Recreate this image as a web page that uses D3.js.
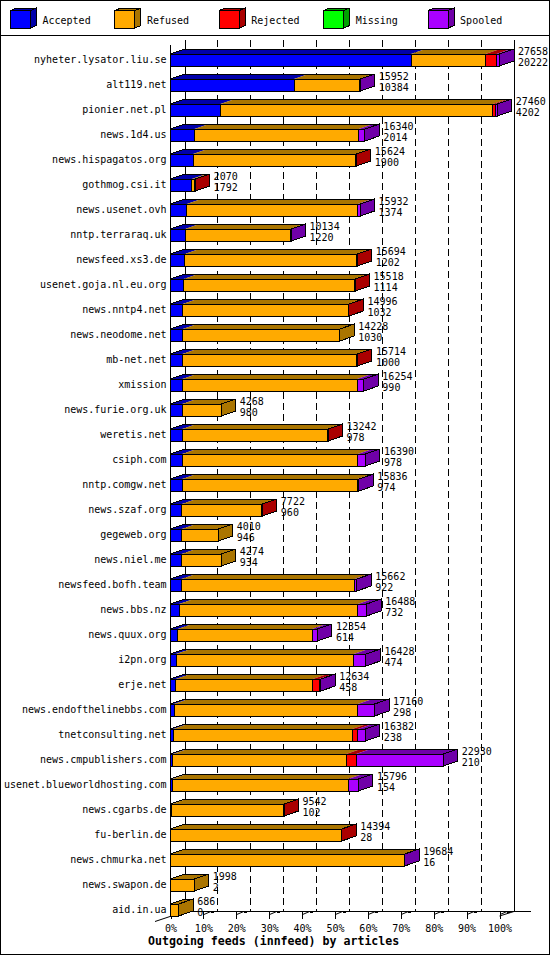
<!DOCTYPE html>
<html>
<head>
<meta charset="utf-8">
<script src="https://cdn.jsdelivr.net/npm/d3@7"></script>
<style>
  body { margin: 0; background: #fff; }
  svg { display: block; }
  text { font-family: "DejaVu Sans Mono", monospace; font-size: 10px; fill: #000; }
</style>
</head>
<body>
<svg width="550" height="955"></svg>
<script>
// innfeed outgoing feeds, counts per peer
const hosts = [
    "nyheter.lysator.liu.se", "alt119.net", "pionier.net.pl", "news.1d4.us",
    "news.hispagatos.org", "gothmog.csi.it", "news.usenet.ovh", "nntp.terraraq.uk",
    "newsfeed.xs3.de", "usenet.goja.nl.eu.org", "news.nntp4.net", "news.neodome.net",
    "mb-net.net", "xmission", "news.furie.org.uk", "weretis.net", "csiph.com",
    "nntp.comgw.net", "news.szaf.org", "gegeweb.org", "news.niel.me",
    "newsfeed.bofh.team", "news.bbs.nz", "news.quux.org", "i2pn.org", "erje.net",
    "news.endofthelinebbs.com", "tnetconsulting.net", "news.cmpublishers.com",
    "usenet.blueworldhosting.com", "news.cgarbs.de", "fu-berlin.de",
    "news.chmurka.net", "news.swapon.de", "aid.in.ua"
];
const totals = [
    27658, 15952, 27460, 16340, 15624, 2070, 15932, 10134, 15694, 15518, 14996, 14228,
    15714, 16254, 4268, 13242, 16390, 15836, 7722, 4010, 4274, 15662, 16488, 12354,
    16428, 12634, 17160, 16382, 22930, 15796, 9542, 14394, 19684, 1998, 686
];
const accepted = [
    20222, 10384, 4202, 2014, 1900, 1792, 1374, 1220, 1202, 1114, 1032, 1030,
    1000, 990, 980, 978, 978, 974, 960, 946, 934, 922, 732, 614,
    474, 458, 298, 238, 210, 154, 102, 28, 16, 2, 0
];
const refused = [
    6260, 5488, 22900, 13818, 13644, 200, 14378, 8854, 14412, 14344, 13904, 13198,
    14644, 14710, 3288, 12195, 14774, 14772, 6722, 3064, 3340, 14560, 15020, 11296,
    14939, 11509, 15454, 15037, 14560, 14784, 9410, 14326, 19648, 1996, 686
];
const rejected = [
    925, 0, 240, 0, 80, 78, 0, 0, 80, 60, 60, 0,
    70, 0, 0, 69, 0, 0, 40, 0, 0, 0, 0, 0,
    0, 540, 0, 480, 840, 0, 30, 40, 0, 0, 0
];
const missing = [
    0, 0, 0, 0, 0, 0, 0, 0, 0, 0, 0, 0,
    0, 0, 0, 0, 0, 0, 0, 0, 0, 0, 0, 0,
    0, 0, 0, 0, 0, 0, 0, 0, 0, 0, 0
];
const spooled = [
    251, 80, 118, 508, 0, 0, 180, 60, 0, 0, 0, 0,
    0, 554, 0, 0, 638, 90, 0, 0, 0, 180, 736, 444,
    1015, 127, 1408, 627, 7320, 858, 0, 0, 20, 0, 0
];
const seriesNames = ["Accepted", "Refused", "Rejected", "Missing", "Spooled"];
const frontColors = ["#0000ff", "#ffaa00", "#ff0000", "#00ff00", "#aa00ff"];
const sideColors = ["#0000aa", "#aa7500", "#aa0000", "#00a000", "#7000a8"];
const percentTicks = [0, 10, 20, 30, 40, 50, 60, 70, 80, 90, 100];
const title = "Outgoing feeds (innfeed) by articles";

const W = 550, H = 955;
const DX = 14.5, DY = 5;          // 3d depth
const floorY = 911.5, topY = 40;
const maxTotal = d3.max(totals);

const svg = d3.select("svg").attr("shape-rendering", "crispEdges");

svg.append("rect")
    .attr("x", 0.5).attr("y", 0.5)
    .attr("width", W - 1).attr("height", H - 1)
    .attr("fill", "#fff").attr("stroke", "#000");

// ---- legend
const legend = svg.append("g");
legend.append("line")
    .attr("x1", 0).attr("x2", W).attr("y1", 35.5).attr("y2", 35.5)
    .attr("stroke", "#000");

const legendItem = legend.selectAll(".item")
    .data(seriesNames)
    .enter().append("g")
        .attr("transform", (d, i) => `translate(${10.5 + i * 104.4},0)`);

legendItem.append("polygon")
    .attr("points", "0,10.5 6,8 26,8 20,10.5")
    .attr("fill", (d, i) => sideColors[i]).attr("stroke", "#000");
legendItem.append("polygon")
    .attr("points", "20,10.5 26,8 26,25.5 20,28")
    .attr("fill", (d, i) => sideColors[i]).attr("stroke", "#000");
legendItem.append("rect")
    .attr("x", 0).attr("y", 10.5).attr("width", 20).attr("height", 17.5)
    .attr("fill", (d, i) => frontColors[i]).attr("stroke", "#000");
legendItem.append("text")
    .attr("x", 32).attr("y", 24)
    .text(d => d);

// ---- scales
const xPct = d3.scaleLinear().domain([0, 100]).range([170.5, 499.5]);
const xVal = (v) => xPct(v / maxTotal * 100);

const y = d3.scaleBand()
    .domain(hosts)
    .range([47, 922])
    .paddingInner(0.52)
    .paddingOuter(0.26);

// ---- back wall and grid
const grid = svg.append("g");
grid.selectAll(".gridline")
    .data(percentTicks.slice(1, -1))
    .enter().append("line")
        .attr("x1", d => xPct(d) + DX).attr("x2", d => xPct(d) + DX)
        .attr("y1", topY).attr("y2", floorY)
        .attr("stroke", "#000").attr("stroke-dasharray", "7,4");

grid.append("line")
    .attr("x1", xPct(0) + DX).attr("x2", xPct(0) + DX)
    .attr("y1", topY).attr("y2", floorY).attr("stroke", "#000");
grid.append("line")
    .attr("x1", xPct(100) + DX).attr("x2", xPct(100) + DX)
    .attr("y1", topY).attr("y2", floorY).attr("stroke", "#000");
grid.append("line")
    .attr("x1", xPct(0) + DX).attr("x2", 531)
    .attr("y1", floorY).attr("y2", floorY).attr("stroke", "#000");
grid.append("line")
    .attr("x1", 155).attr("y1", floorY + 10)
    .attr("x2", xPct(0) + DX).attr("y2", floorY)
    .attr("stroke", "#000").attr("shape-rendering", "auto");
grid.append("line")
    .attr("x1", xPct(100)).attr("y1", floorY + 4.5)
    .attr("x2", xPct(100) + DX).attr("y2", floorY)
    .attr("stroke", "#000").attr("shape-rendering", "auto");
grid.append("line")
    .attr("x1", xPct(0)).attr("x2", xPct(0))
    .attr("y1", topY + DY).attr("y2", floorY + 5).attr("stroke", "#000");

// ---- x axis
const xAxis = svg.append("g")
    .attr("transform", `translate(0,${floorY})`)
    .call(d3.axisBottom(xPct)
        .tickValues(percentTicks)
        .tickFormat(d => d + "%")
        .tickSize(7)
        .tickSizeOuter(0)
        .tickPadding(6));
xAxis.select(".domain").remove();
xAxis.attr("font-family", null).attr("font-size", null);
xAxis.selectAll(".tick line").attr("stroke", "#000");
xAxis.selectAll(".tick").append("line")
    .attr("x1", 0).attr("y1", 3).attr("x2", 7).attr("y2", 0)
    .attr("stroke", "#000").attr("shape-rendering", "auto");
xAxis.selectAll(".tick").append("rect")
    .attr("x", 7).attr("y", -1).attr("width", 3).attr("height", 2)
    .attr("fill", "#000");

// ---- y axis labels
const yAxis = svg.append("g")
    .attr("transform", `translate(${xPct(0)},0)`)
    .call(d3.axisLeft(y).tickSize(0).tickPadding(4));
yAxis.select(".domain").remove();
yAxis.attr("font-family", null).attr("font-size", null);

// ---- bars
const series = [accepted, refused, rejected, missing, spooled];
const rows = hosts.map((h, i) => {
    let acc = 0;
    const segs = [];
    series.forEach((s, k) => {
        if (s[i] > 0) {
            segs.push({ k: k, v0: acc, v1: acc + s[i] });
            acc += s[i];
        }
    });
    return { host: h, total: totals[i], acc: accepted[i], segs: segs };
});

const bh = y.bandwidth();
const bar = svg.append("g").selectAll(".bar")
    .data(rows)
    .enter().append("g")
        .attr("transform", d => `translate(0,${y(d.host) + 0.5})`);

bar.each(function(d) {
    const g = d3.select(this);
    const x0 = xVal(0);
    const xe = xVal(d.total);
    const last = d.segs[d.segs.length - 1];

    g.selectAll(".top")
        .data(d.segs)
        .enter().append("polygon")
            .attr("points", s => {
                const a = xVal(s.v0), b = xVal(s.v1);
                return `${a},0 ${a + DX},${-DY} ${b + DX},${-DY} ${b},0`;
            })
            .attr("fill", s => sideColors[s.k])
            .attr("shape-rendering", "auto");

    g.append("polygon")
        .attr("points", `${x0},0 ${x0 + DX},${-DY} ${xe + DX},${-DY} ${xe},0`)
        .attr("fill", "none").attr("stroke", "#000");

    g.append("polygon")
        .attr("points", `${xe},0 ${xe + DX},${-DY} ${xe + DX},${bh - DY} ${xe},${bh}`)
        .attr("fill", sideColors[last.k]).attr("stroke", "#000");

    g.selectAll(".front")
        .data(d.segs)
        .enter().append("rect")
            .attr("x", s => xVal(s.v0))
            .attr("y", 0)
            .attr("width", s => xVal(s.v1) - xVal(s.v0))
            .attr("height", bh)
            .attr("fill", s => frontColors[s.k])
            .attr("stroke", "#000");

    g.append("text")
        .attr("x", xe + DX + 4).attr("y", bh / 2 - 5)
        .text(d.total);
    g.append("text")
        .attr("x", xe + DX + 4).attr("y", bh / 2 + 6)
        .text(d.acc);
});

// ---- title
svg.append("text")
    .attr("x", 148).attr("y", 945)
    .attr("font-weight", "bold")
    .style("font-size", "11.6px")
    .text(title);
</script>
</body>
</html>
